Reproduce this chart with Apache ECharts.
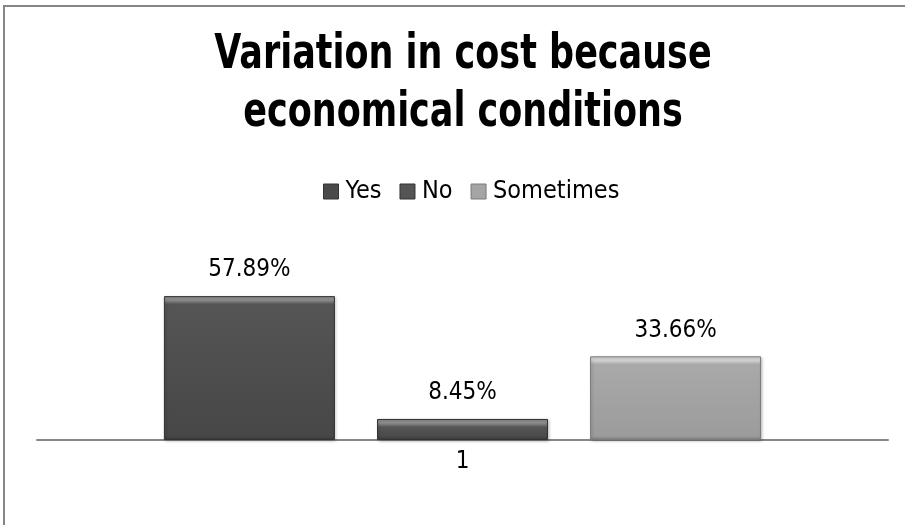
<!DOCTYPE html>
<html><head><meta charset="utf-8">
<script src="https://cdn.jsdelivr.net/npm/echarts@6/dist/echarts.min.js"></script>
<style>html,body{margin:0;padding:0;background:#fff}#c{width:905px;height:525px}</style>
</head><body><div id="c"></div>
<script>
const categories = ['1'];
const seriesNames = ['Yes', 'No', 'Sometimes'];
const yesValues = [57.89];
const noValues = [8.45];
const sometimesValues = [33.66];
const titleLines = ['Variation in cost because', 'economical conditions'];

const FONT = '"DejaVu Sans Condensed", "Liberation Sans Narrow", sans-serif';
const palettes = [
  {top: '#8e8e8e', mid: '#555555', bot: '#474747', edge: '#3a3a3a', border: '#333'},
  {top: '#8e8e8e', mid: '#565656', bot: '#4a4a4a', edge: '#3a3a3a', border: '#333'},
  {top: '#d4d4d4', mid: '#a9a9a9', bot: '#9c9c9c', edge: '#7e7e7e', border: '#7a7a7a'}
];
const legendColors = ['#4a4a4a', '#555555', '#a5a5a5'];
const dataSets = [yesValues, noValues, sometimesValues];

function grad(p, hPx) {
  const t = Math.min(0.45, 8 / hPx), b = Math.min(0.2, 4 / hPx);
  return new echarts.graphic.LinearGradient(0, 0, 0, 1, [
    {offset: 0, color: p.top}, {offset: t * 0.5, color: p.top}, {offset: t, color: p.mid},
    {offset: 1 - b, color: p.bot}, {offset: 1, color: p.edge}
  ]);
}

const chart = echarts.init(document.getElementById('c'), null, {renderer: 'canvas'});
const option = {
  animation: false,
  backgroundColor: '#fff',
  color: legendColors,
  graphic: [
    {type: 'rect', shape: {x: 4, y: 6, width: 920, height: 540}, style: {fill: 'none', stroke: '#868686', lineWidth: 2}, silent: true},
    {type: 'text', x: 463, y: 56, scaleX: 0.81, silent: true,
      style: {text: titleLines[0], align: 'center', verticalAlign: 'middle', fill: '#000',
        font: 'bold 48px ' + FONT}},
    {type: 'text', x: 463, y: 114, scaleX: 0.81, silent: true,
      style: {text: titleLines[1], align: 'center', verticalAlign: 'middle', fill: '#000',
        font: 'bold 48px ' + FONT}}
  ],
  legend: {
    data: seriesNames.map((n, i) => ({name: n, itemStyle: {color: legendColors[i], borderColor: palettes[i].border, borderWidth: 1}})),
    top: 174, left: 318, icon: 'rect', itemWidth: 15, itemHeight: 15, itemGap: 18,
    textStyle: {fontFamily: FONT, fontSize: 25, color: '#000', padding: [0, 0, 0, 2]}
  },
  grid: {left: 37, right: 17, top: 266, bottom: 85},
  xAxis: {
    type: 'category', data: categories,
    axisLine: {lineStyle: {color: '#868686', width: 2}}, axisTick: {show: false},
    axisLabel: {fontFamily: FONT, fontSize: 24, color: '#000', margin: 10}
  },
  yAxis: {type: 'value', min: 0, max: 70, show: false, splitLine: {show: false}},
  series: seriesNames.map((n, i) => ({
    name: n, type: 'bar', data: dataSets[i], barWidth: 171, barGap: '24.6%',
    itemStyle: {color: palettes[i].mid, borderColor: palettes[i].border, borderWidth: 1,
      shadowColor: 'rgba(0,0,0,0.25)', shadowBlur: 3, shadowOffsetX: 1, shadowOffsetY: 1},
    label: {show: true, position: 'top', distance: 14, formatter: p => p.value.toFixed(2) + '%',
      fontFamily: FONT, fontSize: 24, color: '#000'}
  }))
};
chart.setOption(option);
// bevel gradient sized in pixels using the axis scale
const base = chart.convertToPixel({yAxisIndex: 0}, 0);
chart.setOption({
  series: dataSets.map((d, i) => {
    const h = Math.abs(base - chart.convertToPixel({yAxisIndex: 0}, d[0]));
    return {itemStyle: {color: grad(palettes[i], h)}};
  })
});
</script></body></html>
